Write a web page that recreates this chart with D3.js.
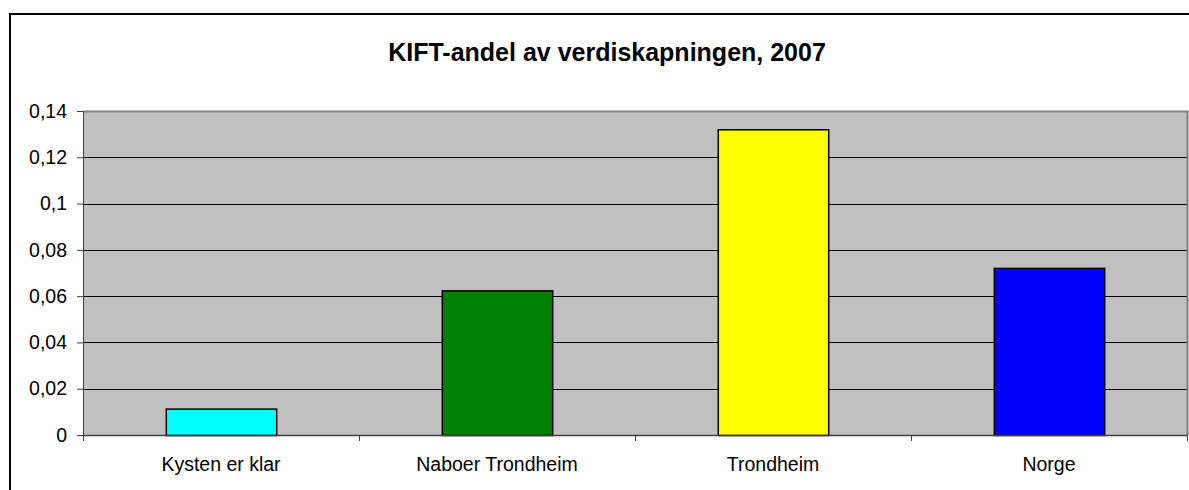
<!DOCTYPE html>
<html><head><meta charset="utf-8">
<script src="https://cdn.jsdelivr.net/npm/d3@7"></script>
<style>body{margin:0;background:#fff}svg{display:block}text{font-family:"Liberation Sans",Arial,sans-serif}</style>
</head><body><svg id="c" width="1189" height="490"></svg>
<script>
const categories = ["Kysten er klar","Naboer Trondheim","Trondheim","Norge"];
const values = [0.0114, 0.0625, 0.1321, 0.0722];
const colors = ["#00FFFF","#008000","#FFFF00","#0000FF"];
const yTicks = [0,0.02,0.04,0.06,0.08,0.1,0.12,0.14];
const title = "KIFT-andel av verdiskapningen, 2007";

const svg = d3.select("#c");
const L=83, R=1187, T=111, B=435;
svg.append("rect").attr("x",10).attr("y",14).attr("width",1200).attr("height",500)
  .attr("fill","#fff").attr("stroke","#000").attr("stroke-width",2);
const x = d3.scaleBand().domain(categories).range([L,R]).paddingInner(0.6).paddingOuter(0.3);
const xc = d3.scaleBand().domain(categories).range([L,R]);
const y = d3.scaleLinear().domain([0,0.14]).range([B,T]);
svg.append("rect").attr("x",L).attr("y",T).attr("width",R-L).attr("height",B-T).attr("fill","#C0C0C0");
svg.append("g").selectAll("line").data(yTicks.slice(1,-1)).join("line")
  .attr("x1",L).attr("x2",R).attr("y1",d=>Math.round(y(d))+0.5).attr("y2",d=>Math.round(y(d))+0.5)
  .attr("stroke","#000").attr("stroke-width",1);
svg.append("path").attr("d",`M${L},${T+0.5}H${R+0.5}V${B}`).attr("fill","none").attr("stroke","#808080").attr("stroke-width",2);
svg.append("g").selectAll("rect").data(values).join("rect")
  .attr("x",(d,i)=>x(categories[i])+0.5).attr("width",x.bandwidth())
  .attr("y",d=>y(d)+0.5).attr("height",d=>B-y(d))
  .attr("fill",(d,i)=>colors[i]).attr("stroke","#000").attr("stroke-width",1.5);
const ya = svg.append("g").attr("transform",`translate(${L},0)`)
  .call(d3.axisLeft(y).tickValues(yTicks).tickSize(6).tickPadding(10).tickFormat(d=>String(d).replace(".",",")));
ya.select(".domain").attr("stroke","#404040");
ya.selectAll("line").attr("stroke","#404040");
ya.selectAll("text").attr("font-size",19.5).attr("fill","#000").attr("font-family","Liberation Sans, Arial, sans-serif");
const xa = svg.append("g").attr("transform",`translate(0,${B})`)
  .call(d3.axisBottom(xc).tickSize(0).tickPadding(0));
xa.select(".domain").remove();
xa.selectAll(".tick line").remove();
xa.selectAll("text").attr("font-size",19.5).attr("fill","#000").attr("y",36).attr("dy",0).attr("font-family","Liberation Sans, Arial, sans-serif");
svg.append("path").attr("d",`M${L},${B+0.5}H${R}`).attr("stroke","#404040").attr("stroke-width",1.5);
svg.append("g").selectAll("line").data(d3.range(5)).join("line")
  .attr("x1",i=>Math.round(L+i*xc.step())+0.5).attr("x2",i=>Math.round(L+i*xc.step())+0.5)
  .attr("y1",B).attr("y2",B+6).attr("stroke","#404040");
svg.append("text").attr("x",607).attr("y",61).attr("text-anchor","middle")
  .attr("font-size",25).attr("font-weight","bold").text(title);
</script></body></html>
